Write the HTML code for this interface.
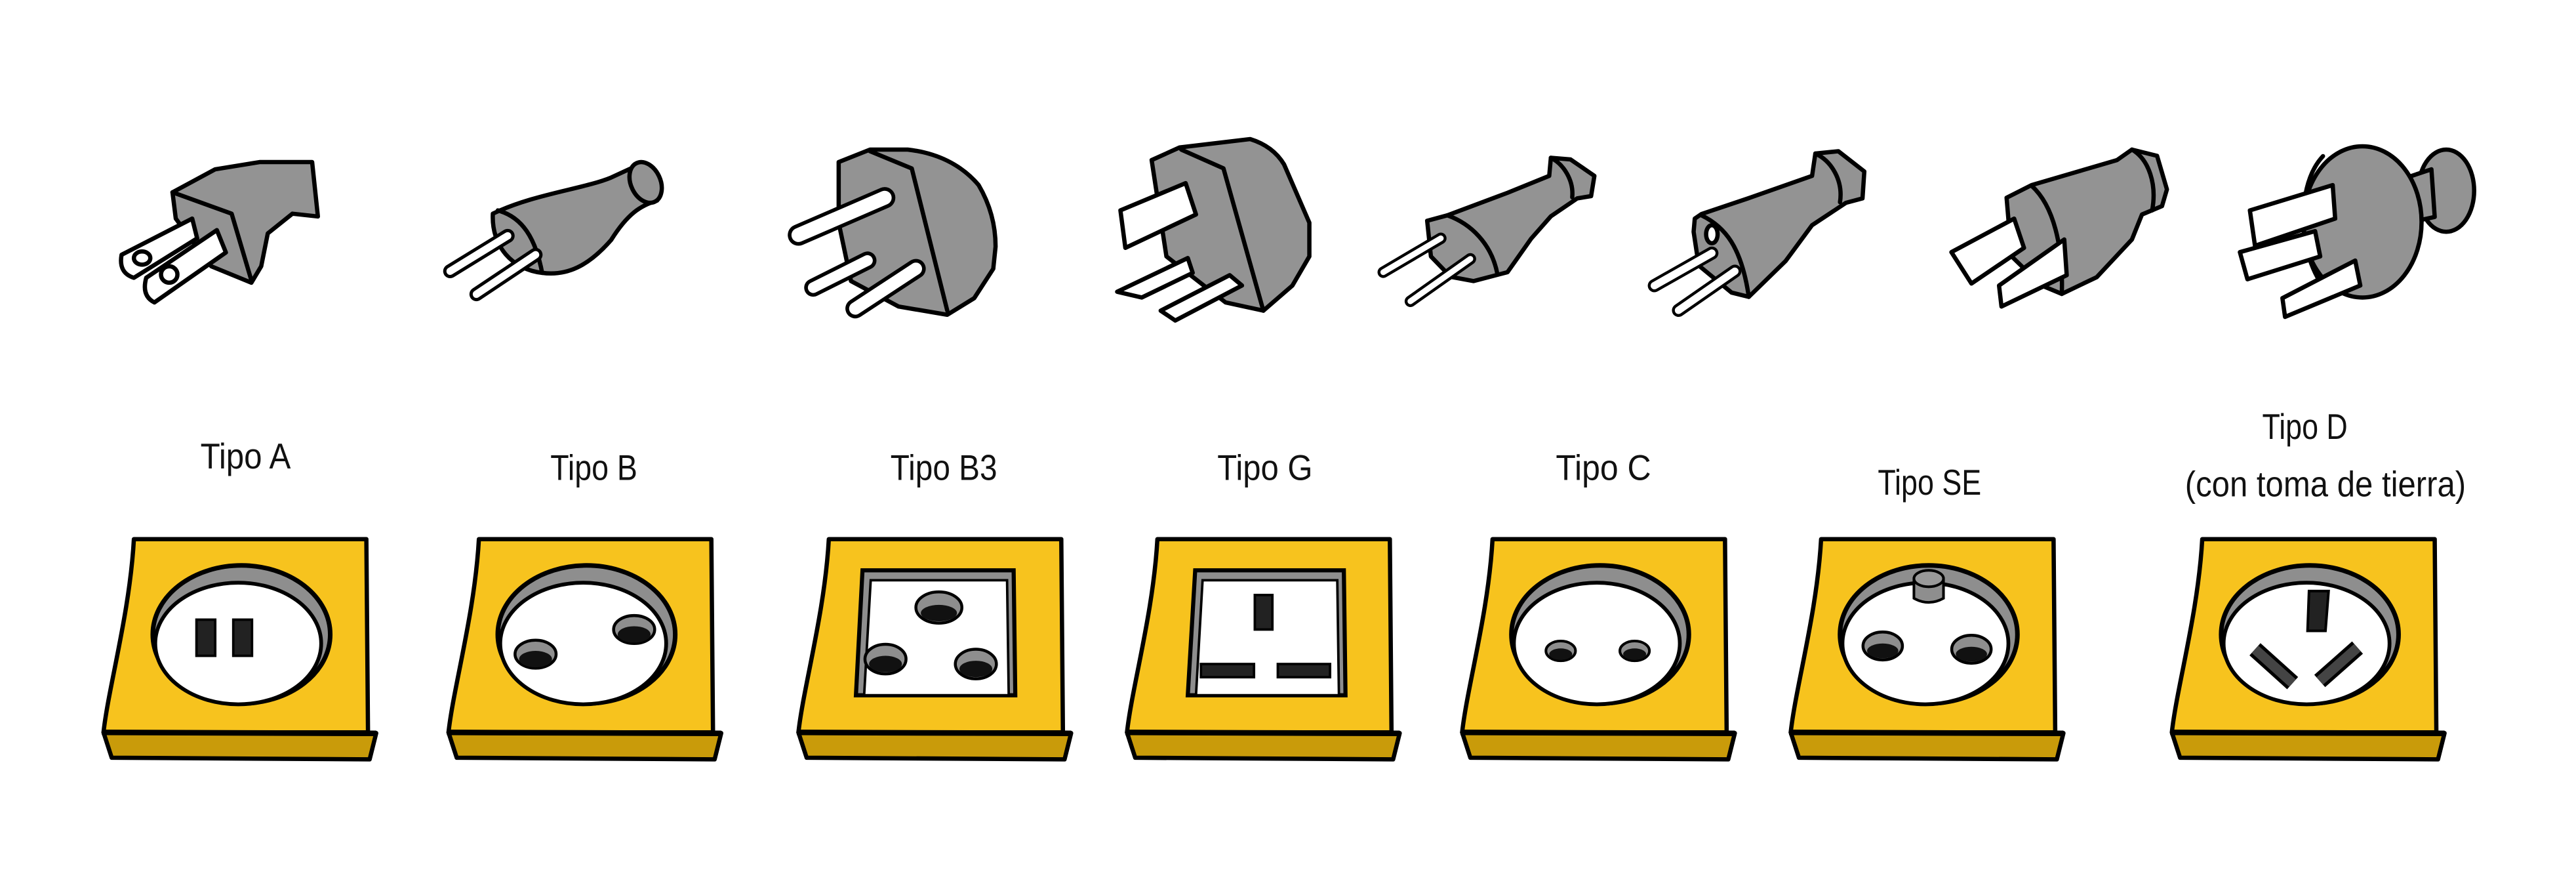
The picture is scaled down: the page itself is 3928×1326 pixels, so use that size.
<!DOCTYPE html>
<html><head><meta charset="utf-8"><style>
html,body{margin:0;padding:0;background:#fff}
svg{display:block}
text{font-family:"Liberation Sans",sans-serif;fill:#111}
</style></head><body>
<svg width="3928" height="1326" viewBox="0 0 1568 529.3" xmlns="http://www.w3.org/2000/svg">
<defs>
<g id="box">
  <path d="M18.5,0 L160,0 L161,117.6 L0,117.6 C3,90 16,45 18.5,0 Z" fill="#F7C31E" stroke="#000" stroke-width="2.6" stroke-linejoin="round"/>
  <path d="M0,117.6 L166,118 L162,134 L5,133 Z" fill="#C99B0A" stroke="#000" stroke-width="2.6" stroke-linejoin="round"/>
  <line x1="-1" y1="117.6" x2="166" y2="118.2" stroke="#000" stroke-width="3.4"/>
</g>
<g id="round">
  <ellipse cx="84" cy="58" rx="54" ry="42" fill="#8e8e8e" stroke="#000" stroke-width="2.8"/>
  <ellipse cx="82" cy="63.5" rx="50.5" ry="37" fill="#fff" stroke="#000" stroke-width="2.3"/>
</g>
</defs>

<g stroke="#000" stroke-width="2.6" stroke-linejoin="round" stroke-linecap="round">
<!-- Plug A -->
<path d="M105,117 L131,103 L158,98.6 L190,98.6 L193.5,131.7 L178,130 L163,142 L159,162 L153,172 L128.6,162 L107,133 Z" fill="#939393"/>
<path d="M105,117 L141,130 L153,170.5" fill="none"/>
<path d="M74,155 L117,133 L120,145 L81.5,169 Q72,166 74,155 Z" fill="#fff"/>
<ellipse cx="86.5" cy="157" rx="5" ry="4" fill="#fff"/>
<path d="M89,169 L132,140 L137.5,153.6 L94,184 Q86,180 89,169 Z" fill="#fff"/>
<ellipse cx="103" cy="167" rx="5" ry="5" fill="#fff"/>

<!-- Plug B -->
<path d="M300,130 C325,118 355,115 372,108 L385,102 L398,108 L400,122 C390,125 382,130 372,146 C358,162 345,168 330,166 C312,164 299,150 300,130 Z" fill="#939393"/>
<ellipse cx="393" cy="111" rx="9" ry="13" transform="rotate(-25 393 111)" fill="#939393"/>
<path d="M303,128 C318,132 326,145 330,166" fill="none"/>
<path d="M274,165 L309,143.5" stroke-width="8.5"/><path d="M274,165 L309,143.5" stroke="#fff" stroke-width="4.5"/>
<path d="M290,179 L326,155" stroke-width="8.5"/><path d="M290,179 L326,155" stroke="#fff" stroke-width="4.5"/>

<!-- Plug B3 -->
<path d="M510.5,98.6 L529.6,91 L552.5,91 C570,93 585,100 595.7,112.6 C603,125 606,138 606,150 L604.6,163.5 L593,181.4 L576.6,191.5 L547,186.5 L518,171 L510.5,135.5 Z" fill="#939393"/>
<path d="M529.6,92 L555,102.5 L576.6,189" fill="none"/>
<path d="M486,143 L538.5,120.3" stroke-width="13"/><path d="M486,143 L538.5,120.3" stroke="#fff" stroke-width="8.5"/>
<path d="M495,175 L528,158.5" stroke-width="11"/><path d="M495,175 L528,158.5" stroke="#fff" stroke-width="6.5"/>
<path d="M520.6,187.7 L557.5,163.5" stroke-width="12"/><path d="M520.6,187.7 L557.5,163.5" stroke="#fff" stroke-width="7.5"/>

<!-- Plug G -->
<path d="M701,97.4 L718,89.7 L761,84.6 C772,88 778,94 781.6,100 L797,135.5 L797,156 L786.7,173.7 L769,189 L746,184 L710,156 Z" fill="#939393"/>
<path d="M719,91 L744.7,102.4 L769,189" fill="none"/>
<path d="M682,128 L721.7,111.4 L728,130.5 L685,150.8 Z" fill="#fff"/>
<path d="M680,177.5 L723,157 L726,166 L695,181 Z" fill="#fff"/>
<path d="M706.5,189 L748.5,167.4 L756,173.7 L715.4,195 Z" fill="#fff"/>

<!-- Plug C -->
<path d="M868.7,134.3 L881,131 L917.6,117.3 L943,107 L944,96 L956,97 L970.5,107 L968.5,119.3 L960,120.7 L944,131.6 L932,145.2 L917.6,165.6 L897,171 L883,168.4 L871,156 Z" fill="#939393"/>
<path d="M881,131 C895,136 908,148 911.5,167" fill="none"/>
<path d="M944,96 C952,100 958,110 957,120" fill="none"/>
<path d="M842,165.6 L877,145" stroke-width="7"/><path d="M842,165.6 L877,145" stroke="#fff" stroke-width="3.5"/>
<path d="M858.5,183.3 L895,157.5" stroke-width="7"/><path d="M858.5,183.3 L895,157.5" stroke="#fff" stroke-width="3.5"/>

<!-- Plug SE -->
<path d="M1031.6,133 L1035.7,130.2 L1064,120.7 L1103,107 L1105,93.4 L1119,92 L1134.8,104.3 L1133.7,120.7 L1123.6,123.4 L1103,137 L1086.9,158.8 L1064.5,180.6 L1054,178 L1034,161.5 L1030.9,141 Z" fill="#939393"/>
<path d="M1035.7,131 C1050,138 1060,150 1064.5,180.6" fill="none"/>
<path d="M1105,93.4 C1115,98 1122,110 1120,123" fill="none"/>
<ellipse cx="1042" cy="142.5" rx="3.5" ry="5.5" fill="#fff"/>
<path d="M1007,173.8 L1042,154" stroke-width="8"/><path d="M1007,173.8 L1042,154" stroke="#fff" stroke-width="4.5"/>
<path d="M1021.7,188.8 L1056,165" stroke-width="8"/><path d="M1021.7,188.8 L1056,165" stroke="#fff" stroke-width="4.5"/>

<!-- Plug 7 -->
<path d="M1221.4,120.3 L1236.6,112.6 L1288.6,97.4 L1297.7,91 L1313,94.8 L1319,115.2 L1316,125.4 L1303.8,130.5 L1297.7,145.7 L1276.3,168.6 L1255,178.8 L1242.7,173.7 L1224.4,155.9 Z" fill="#939393"/>
<path d="M1236.6,113 C1250,125 1256,150 1255,178.8" fill="none"/>
<path d="M1297.7,91 C1308,97 1313,112 1310,128" fill="none"/>
<path d="M1187.8,153.4 L1226,133 L1232,150.8 L1200,172.5 Z" fill="#fff"/>
<path d="M1216.8,173.7 L1256.5,145.7 L1258,167.4 L1218.3,186.5 Z" fill="#fff"/>

<!-- Plug 8 -->
<ellipse cx="1489" cy="116" rx="17" ry="25" fill="#939393"/>
<path d="M1465,108 L1480,103 L1482,132 L1468,135 Z" fill="#939393"/>
<ellipse cx="1438" cy="135" rx="36" ry="46" fill="#939393"/>
<path d="M1414,95 C1395,115 1400,165 1420,180" fill="none"/>
<path d="M1369.5,128 L1419.9,112.6 L1421.4,133 L1372.6,149.5 Z" fill="#fff"/>
<path d="M1363.4,153.4 L1409.2,140.6 L1412.3,156 L1368,169.9 Z" fill="#fff"/>
<path d="M1389.3,181.4 L1433.6,158.5 L1436.7,173.7 L1390.9,192.8 Z" fill="#fff"/>
</g>

<text x="122" y="285" font-size="22" textLength="55" lengthAdjust="spacingAndGlyphs">Tipo A</text>
<text x="335" y="292" font-size="22" textLength="53" lengthAdjust="spacingAndGlyphs">Tipo B</text>
<text x="542" y="292" font-size="22" textLength="65" lengthAdjust="spacingAndGlyphs">Tipo B3</text>
<text x="741" y="292" font-size="22" textLength="58" lengthAdjust="spacingAndGlyphs">Tipo G</text>
<text x="947" y="292" font-size="22" textLength="58" lengthAdjust="spacingAndGlyphs">Tipo C</text>
<text x="1143" y="301" font-size="22" textLength="63" lengthAdjust="spacingAndGlyphs">Tipo SE</text>
<text x="1377" y="267" font-size="22" textLength="52" lengthAdjust="spacingAndGlyphs">Tipo D</text>
<text x="1330" y="302" font-size="22" textLength="171" lengthAdjust="spacingAndGlyphs">(con toma de tierra)</text>

<g transform="translate(63,328)">
  <use href="#box"/><use href="#round"/>
  <rect x="56.6" y="49" width="11.4" height="22" fill="#222" stroke="#000" stroke-width="1.5"/>
  <rect x="79" y="49" width="11.4" height="22" fill="#222" stroke="#000" stroke-width="1.5"/>
</g>
<g transform="translate(273,328)">
  <use href="#box"/><use href="#round"/>
  <ellipse cx="53" cy="70" rx="12.5" ry="8.5" fill="#8e8e8e" stroke="#000" stroke-width="1.8"/>
  <ellipse cx="53" cy="73" rx="10" ry="5" fill="#111"/>
  <ellipse cx="113" cy="55" rx="12.5" ry="8.5" fill="#8e8e8e" stroke="#000" stroke-width="1.8"/>
  <ellipse cx="113" cy="58" rx="10" ry="5" fill="#111"/>
</g>
<g transform="translate(486,328)">
  <use href="#box"/>
  <path d="M39,19 L131,19 L132,95 L35,95 Z" fill="#8e8e8e" stroke="#000" stroke-width="2.5"/>
  <path d="M44,25 L127,25 L128,95 L40,95 Z" fill="#fff" stroke="#000" stroke-width="1.5"/>
  <g fill="#8e8e8e" stroke="#000" stroke-width="1.8">
    <ellipse cx="85.5" cy="41.6" rx="14" ry="9.5"/><ellipse cx="53" cy="73" rx="12.5" ry="9"/><ellipse cx="108" cy="76" rx="12.5" ry="9"/>
  </g>
  <g fill="#111"><ellipse cx="85.5" cy="45" rx="11" ry="5"/><ellipse cx="53" cy="76" rx="10" ry="5"/><ellipse cx="108" cy="79" rx="10" ry="5"/></g>
</g>
<g transform="translate(686,328)">
  <use href="#box"/>
  <path d="M41.5,19 L132,19 L133,95 L37,95 Z" fill="#8e8e8e" stroke="#000" stroke-width="2.5"/>
  <path d="M46,25 L128,25 L129,95 L42,95 Z" fill="#fff" stroke="#000" stroke-width="1.5"/>
  <rect x="77.8" y="34" width="10.7" height="21" fill="#222" stroke="#000" stroke-width="1.5"/>
  <rect x="45" y="76" width="32.3" height="8" fill="#222" stroke="#000" stroke-width="1.5"/>
  <rect x="91.8" y="76" width="31.8" height="8" fill="#222" stroke="#000" stroke-width="1.5"/>
</g>
<g transform="translate(890,328)">
  <use href="#box"/><use href="#round"/>
  <ellipse cx="60" cy="68" rx="9" ry="6" fill="#8e8e8e" stroke="#000" stroke-width="1.6"/>
  <ellipse cx="60" cy="70" rx="7" ry="3.5" fill="#111"/>
  <ellipse cx="105" cy="68" rx="9" ry="6" fill="#8e8e8e" stroke="#000" stroke-width="1.6"/>
  <ellipse cx="105" cy="70" rx="7" ry="3.5" fill="#111"/>
</g>
<g transform="translate(1090,328)">
  <use href="#box"/><use href="#round"/>
  <path d="M75,24 L75,36 Q84,41 93,36 L93,24 Z" fill="#8e8e8e" stroke="#000" stroke-width="1.6"/>
  <ellipse cx="84" cy="24" rx="9" ry="5" fill="#999" stroke="#000" stroke-width="1.6"/>
  <ellipse cx="56" cy="65" rx="12" ry="8.5" fill="#8e8e8e" stroke="#000" stroke-width="1.8"/>
  <ellipse cx="56" cy="68" rx="9.5" ry="4.5" fill="#111"/>
  <ellipse cx="110" cy="67" rx="12" ry="8.5" fill="#8e8e8e" stroke="#000" stroke-width="1.8"/>
  <ellipse cx="110" cy="70" rx="9.5" ry="4.5" fill="#111"/>
</g>
<g transform="translate(1322,328)">
  <use href="#box"/><use href="#round"/>
  <path d="M83.5,31.6 L95.4,31.6 L93.5,55.8 L82.6,55.8 Z" fill="#222" stroke="#000" stroke-width="1.6"/>
  <path d="M50.6,67 L73.5,87.6" stroke="#000" stroke-width="10" stroke-linecap="butt"/>
  <path d="M50.6,67 L73.5,87.6" stroke="#444" stroke-width="6" stroke-linecap="butt"/>
  <path d="M113,66 L90,86.3" stroke="#000" stroke-width="10" stroke-linecap="butt"/>
  <path d="M113,66 L90,86.3" stroke="#444" stroke-width="6" stroke-linecap="butt"/>
</g>
</svg>
</body></html>
